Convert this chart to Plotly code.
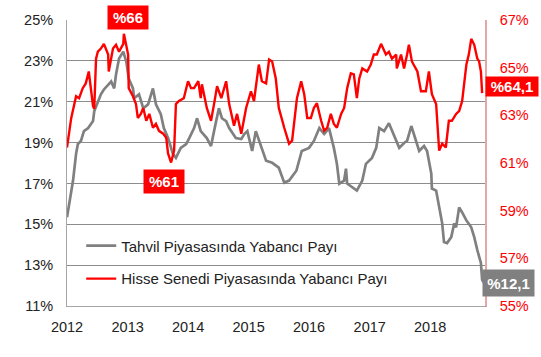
import plotly.graph_objects as go
import pandas as pd

# Decimal-year time stamps and values (%)
bond_t = [2012.00, 2012.03, 2012.10, 2012.15, 2012.18, 2012.23, 2012.28, 2012.35, 2012.43, 2012.45,
          2012.51, 2012.56, 2012.61, 2012.73, 2012.78, 2012.81, 2012.86, 2012.93, 2012.98, 2013.02,
          2013.09, 2013.11, 2013.19, 2013.26, 2013.34, 2013.42, 2013.47, 2013.55, 2013.60, 2013.67,
          2013.75, 2013.80, 2013.88, 2013.97, 2014.02, 2014.10, 2014.15, 2014.21, 2014.31, 2014.38,
          2014.43, 2014.51, 2014.56, 2014.63, 2014.68, 2014.79, 2014.88, 2014.93, 2014.98, 2015.06,
          2015.12, 2015.21, 2015.29, 2015.39, 2015.50, 2015.59, 2015.67, 2015.79, 2015.88, 2016.00,
          2016.08, 2016.17, 2016.25, 2016.33, 2016.41, 2016.46, 2016.50, 2016.58, 2016.61, 2016.63,
          2016.71, 2016.79, 2016.88, 2016.94, 2017.04, 2017.11, 2017.16, 2017.24, 2017.32, 2017.40,
          2017.49, 2017.57, 2017.62, 2017.69, 2017.74, 2017.82, 2017.90, 2017.95, 2018.02, 2018.03,
          2018.10, 2018.15, 2018.20, 2018.23, 2018.28, 2018.35, 2018.40, 2018.43, 2018.48, 2018.53,
          2018.60, 2018.68, 2018.73, 2018.78, 2018.84, 2018.86, 2018.89]
bond_v = [15.34, 15.83, 17.14, 18.45, 18.93, 19.08, 19.56, 19.71, 20.05, 20.53,
          21.02, 21.36, 21.60, 21.99, 21.65, 22.33, 23.11, 23.45, 22.96, 22.14,
          21.65, 21.17, 21.36, 20.68, 20.87, 21.65, 20.87, 20.39, 19.71, 19.22,
          18.45, 18.25, 18.74, 18.93, 19.22, 19.71, 20.19, 19.56, 19.22, 18.83,
          19.56, 20.68, 20.19, 20.05, 19.71, 19.22, 19.17, 19.42, 19.56, 18.59,
          19.56, 18.74, 18.11, 18.01, 17.77, 17.04, 17.14, 17.62, 18.59, 18.74,
          19.08, 19.71, 19.42, 19.71, 18.74, 17.96, 16.99, 17.14, 17.72, 16.99,
          16.80, 16.65, 17.14, 17.96, 18.25, 18.74, 19.71, 19.56, 19.95, 19.42,
          18.74, 18.98, 19.08, 19.81, 19.32, 18.59, 18.83, 18.59, 17.48, 16.75,
          16.65, 15.83, 15.05, 14.13, 14.08, 14.37, 15.05, 14.85, 15.83, 15.58,
          15.19, 14.85, 14.37, 13.74, 13.11, 12.28, 12.14]

equity_t = [2012.00, 2012.07, 2012.15, 2012.20, 2012.26, 2012.31, 2012.36, 2012.43, 2012.45, 2012.48,
            2012.51, 2012.56, 2012.61, 2012.68, 2012.69, 2012.76, 2012.81, 2012.86, 2012.93, 2012.94,
            2013.01, 2013.02, 2013.09, 2013.14, 2013.17, 2013.22, 2013.26, 2013.31, 2013.36, 2013.42,
            2013.47, 2013.52, 2013.59, 2013.64, 2013.67, 2013.72, 2013.77, 2013.80, 2013.85, 2013.93,
            2014.00, 2014.05, 2014.10, 2014.17, 2014.21, 2014.23, 2014.31, 2014.38, 2014.43, 2014.48,
            2014.55, 2014.63, 2014.68, 2014.76, 2014.81, 2014.88, 2014.96, 2015.04, 2015.09, 2015.17,
            2015.22, 2015.29, 2015.34, 2015.39, 2015.45, 2015.50, 2015.59, 2015.67, 2015.72, 2015.80,
            2015.87, 2015.92, 2015.97, 2016.03, 2016.08, 2016.13, 2016.20, 2016.25, 2016.30, 2016.36,
            2016.41, 2016.46, 2016.53, 2016.58, 2016.63, 2016.69, 2016.74, 2016.79, 2016.83, 2016.88,
            2016.96, 2017.02, 2017.07, 2017.12, 2017.19, 2017.27, 2017.32, 2017.37, 2017.44, 2017.45,
            2017.52, 2017.57, 2017.62, 2017.65, 2017.70, 2017.79, 2017.85, 2017.93, 2017.98, 2018.03,
            2018.10, 2018.15, 2018.20, 2018.26, 2018.31, 2018.36, 2018.43, 2018.48, 2018.53, 2018.60,
            2018.64, 2018.68, 2018.73, 2018.78, 2018.81, 2018.84, 2018.86]
equity_v = [61.65, 62.89, 63.80, 63.72, 64.14, 64.34, 64.84, 63.39, 63.27, 65.38,
            65.67, 65.80, 66.00, 65.55, 64.84, 65.80, 65.96, 65.67, 66.00, 66.42,
            65.55, 64.14, 63.80, 63.47, 62.89, 63.06, 63.31, 62.77, 63.06, 62.48,
            62.64, 62.35, 62.23, 62.06, 61.40, 61.02, 61.52, 63.47, 63.60, 63.72,
            64.43, 64.14, 64.14, 64.43, 63.72, 64.30, 63.31, 62.77, 63.47, 64.22,
            63.72, 64.43, 63.47, 62.56, 63.06, 62.23, 63.31, 64.01, 63.60, 65.13,
            64.43, 64.34, 65.34, 65.26, 64.55, 63.31, 62.48, 61.81, 61.94, 63.72,
            64.43, 63.89, 62.89, 62.89, 63.31, 63.51, 62.77, 62.35, 62.48, 63.06,
            62.64, 62.48, 63.06, 63.31, 64.14, 64.76, 64.72, 63.72, 64.55, 64.97,
            64.84, 65.13, 65.55, 65.55, 66.00, 65.55, 65.67, 65.38, 65.55, 64.97,
            65.55, 64.97, 65.55, 65.96, 65.26, 64.84, 64.01, 64.01, 64.84, 63.89,
            63.47, 61.52, 61.81, 61.65, 62.77, 62.77, 63.06, 63.18, 63.60, 65.13,
            65.55, 66.21, 65.96, 65.38, 65.26, 64.84, 63.93]

series_names = ["Tahvil Piyasasında Yabancı Payı", "Hisse Senedi Piyasasında Yabancı Payı"]
left_ticks = [11, 13, 15, 17, 19, 21, 23, 25]
right_ticks = [55, 57, 59, 61, 63, 65, 67]
callouts = ["%66", "%61", "%64,1", "%12,1"]


def to_dates(ts):
    base = pd.Timestamp("2012-01-01")
    return [base + pd.Timedelta(days=(t - 2012.0) * 365.25) for t in ts]


FONT = "Liberation Sans, Arial, sans-serif"
RED = "#ff0000"
GRAY = "#808080"

fig = go.Figure()
fig.add_trace(go.Scatter(x=to_dates(bond_t), y=bond_v, mode="lines", name=series_names[0],
                         line=dict(color=GRAY, width=2.7), yaxis="y", legend="legend",
                         showlegend=True))
fig.add_trace(go.Scatter(x=to_dates(equity_t), y=equity_v, mode="lines", name=series_names[1],
                         line=dict(color=RED, width=2.4), yaxis="y2", legend="legend2",
                         showlegend=True))

legend_common = dict(bgcolor="rgba(0,0,0,0)", font=dict(family=FONT, size=15, color="#222"),
                     xanchor="left", yanchor="middle", x=0.034, visible=True)

fig.update_layout(
    width=541, height=357,
    showlegend=True,
    margin=dict(l=67, r=55, t=18, b=51),
    paper_bgcolor="white", plot_bgcolor="white",
    font=dict(family=FONT, size=14, color="#222"),
    xaxis=dict(type="date", range=[pd.Timestamp("2012-01-01"), pd.Timestamp("2018-11-28")],
               dtick="M12", tick0="2012-01-01", tickformat="%Y", showgrid=False,
               showline=True, linecolor="#a6a6a6", linewidth=1, ticks="",
               ticklabelstandoff=8, tickfont=dict(size=14.5, color="#222")),
    yaxis=dict(range=[11, 25], tickvals=left_ticks, ticktext=[f"{v}%" for v in left_ticks],
               showgrid=True, gridcolor="#8c8c8c", gridwidth=1, zeroline=False,
               showline=True, linecolor="#a6a6a6", linewidth=1, ticks="",
               ticklabelstandoff=10, tickfont=dict(size=14.5, color="#222")),
    yaxis2=dict(range=[55, 67], tickvals=right_ticks, ticktext=[f"{v}%" for v in right_ticks],
                overlaying="y", side="right", showgrid=False, zeroline=False,
                showline=True, linecolor="#e6a6a6", linewidth=1.5, ticks="",
                ticklabelstandoff=10, tickfont=dict(size=14.5, color=RED)),
    legend=dict(**legend_common, y=0.21),
    legend2=dict(**legend_common, y=0.095),
)

ann_style = dict(xref="paper", yref="paper", showarrow=False, xanchor="center", yanchor="middle",
                 font=dict(family=FONT, size=15, color="white"))
fig.add_annotation(text=f"<b>{callouts[0]}</b>", x=0.1456, y=1.007, bgcolor=RED,
                   width=36, height=19, borderpad=2, **ann_style)
fig.add_annotation(text=f"<b>{callouts[1]}</b>", x=0.2315, y=0.434, bgcolor=RED,
                   width=36, height=19, borderpad=2, **ann_style)
fig.add_annotation(text=f"<b>{callouts[2]}</b>", x=1.0644, y=0.769, bgcolor=RED,
                   width=48, height=15, borderpad=2, **ann_style)
fig.add_annotation(text=f"<b>{callouts[3]}</b>", x=1.057, y=0.080, bgcolor=GRAY,
                   width=47, height=22, borderpad=2, **ann_style)

fig.write_html("out.html", config={"displayModeBar": False},
               post_script="document.body.style.margin='0';document.body.style.overflow='hidden';")
